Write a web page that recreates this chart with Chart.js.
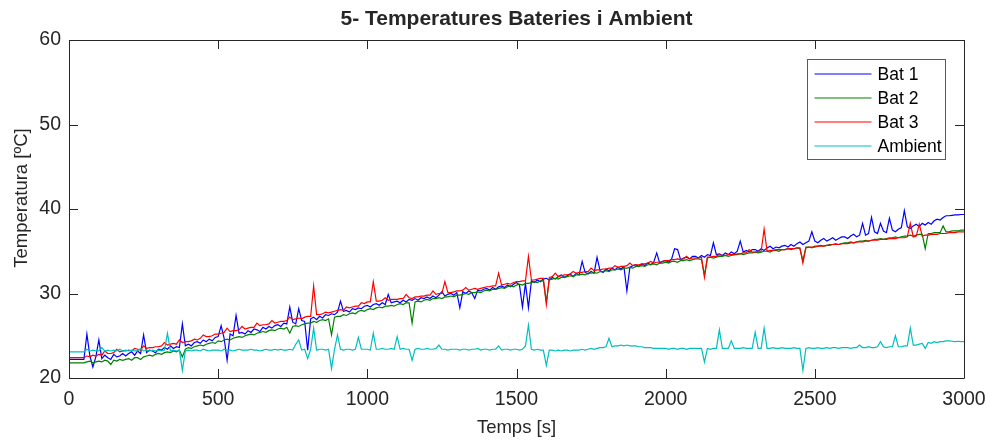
<!DOCTYPE html>
<html>
<head>
<meta charset="utf-8">
<script src="https://cdn.jsdelivr.net/npm/chart.js@4.4.1/dist/chart.umd.min.js"></script>
<style>
  html, body { margin: 0; padding: 0; background: #fff; }
  #wrap { width: 989px; height: 443px; position: relative; }
</style>
</head>
<body>
<div id="wrap"><canvas id="tempChart"></canvas></div>
<script>
// ── Data: one sample every 10 s, from 0 s to 3000 s (one row = 100 s) ──
const SAMPLE_STEP = 10;
const xTicks = [0, 500, 1000, 1500, 2000, 2500, 3000];
const yTicks = [20, 30, 40, 50, 60];

const bat1 = [
  22.2, 22.2, 22.2, 22.2, 22.2, 22.2, 25.2, 22.6, 21.3, 22.5,
  24.5, 22.3, 22.7, 22.4, 22.2, 22.8, 22.5, 22.6, 22.9, 22.6,
  22.9, 23.1, 22.7, 23.2, 22.9, 25.1, 23.0, 23.3, 23.2, 23.0,
  23.4, 23.3, 23.6, 23.4, 23.8, 23.5, 23.7, 23.6, 26.4, 23.8,
  24.0, 23.8, 24.2, 24.3, 24.1, 24.5, 24.3, 24.6, 24.4, 24.8,
  24.9, 26.2, 24.7, 22.1, 25.2, 25.0, 27.4, 25.3, 25.4, 25.2,
  25.6, 25.4, 25.8, 25.7, 25.5, 26.0, 25.8, 26.1, 25.9, 26.2,
  26.3, 26.1, 26.5, 26.4, 28.4, 26.6, 26.4, 28.2, 26.8, 26.7,
  23.3, 27.0, 27.2, 26.9, 27.3, 27.1, 27.5, 27.4, 27.6, 27.5,
  27.8, 29.1, 27.9, 28.0, 27.8, 28.2, 28.1, 28.3, 28.2, 28.5,
  28.6, 28.4, 28.7, 28.8, 28.6, 28.9, 28.7, 29.9, 28.9, 29.0,
  29.1, 28.9, 29.2, 29.0, 29.3, 29.2, 29.4, 29.2, 29.5, 29.4,
  29.6, 29.4, 29.7, 29.5, 29.8, 30.2, 29.7, 29.9, 30.0, 29.8,
  30.1, 28.3, 30.2, 30.0, 30.3, 30.1, 29.4, 30.4, 30.3, 30.5,
  30.6, 30.4, 30.7, 30.5, 30.8, 30.9, 30.7, 31.0, 30.8, 31.1,
  31.3, 31.0, 28.4, 31.2, 28.3, 31.5, 31.3, 31.6, 31.4, 31.7,
  31.8, 31.6, 31.9, 31.7, 32.0, 32.2, 31.9, 32.1, 32.3, 32.0,
  32.4, 32.2, 33.8, 32.5, 32.3, 32.6, 32.4, 34.3, 32.7, 32.5,
  32.9, 32.7, 33.0, 32.8, 33.1, 32.9, 33.2, 30.3, 33.1, 33.3,
  33.4, 33.2, 33.5, 33.3, 33.6, 33.4, 33.7, 34.8, 33.6, 33.8,
  33.9, 33.7, 34.1, 35.3, 35.2, 34.0, 34.2, 34.3, 34.1, 34.4,
  34.4, 34.2, 34.5, 34.3, 34.6, 34.5, 36.0, 34.6, 34.7, 34.5,
  34.8, 34.6, 34.9, 34.7, 35.0, 36.2, 34.9, 35.1, 34.9, 35.2,
  35.2, 35.0, 35.3, 35.1, 35.4, 35.6, 35.3, 35.5, 35.4, 35.6,
  35.7, 35.5, 35.8, 35.6, 35.9, 36.1, 35.8, 36.0, 36.2, 37.3,
  36.2, 36.0, 36.3, 36.5, 36.2, 36.4, 36.6, 36.3, 36.5, 36.7,
  36.7, 36.5, 36.8, 37.0, 36.7, 36.9, 38.3, 36.9, 37.1, 39.0,
  37.3, 37.1, 38.3, 37.4, 37.2, 38.9, 37.5, 37.3, 37.6, 37.8,
  39.8, 37.9, 37.7, 38.0, 38.2, 37.9, 38.3, 38.1, 38.4, 38.2,
  38.6, 38.8, 38.7, 39.0, 39.2, 39.2, 39.25, 39.3, 39.3, 39.35,
  39.35
];

const bat2 = [
  21.8, 21.8, 21.8, 21.8, 21.8, 21.8, 21.9, 22.0, 21.8, 21.9,
  22.0, 21.9, 22.1, 22.0, 21.6, 22.1, 22.0, 22.2, 22.1, 22.2,
  22.3, 22.1, 22.4, 22.4, 22.2, 22.5, 22.6, 22.7, 22.6, 22.8,
  22.9, 22.8, 23.0, 23.1, 23.0, 23.2, 23.1, 23.3, 22.5, 23.4,
  23.6, 23.5, 23.7, 23.8, 23.9, 23.8, 24.0, 24.1, 24.2, 24.1,
  24.4, 24.3, 24.5, 24.6, 24.5, 24.7, 24.8, 24.9, 24.8, 25.0,
  25.1, 25.2, 25.1, 25.3, 25.4, 25.5, 25.4, 25.6, 25.7, 25.6,
  25.8, 25.9, 25.8, 26.0, 25.3, 26.1, 26.2, 26.1, 26.3, 26.4,
  26.5, 26.5, 26.7, 26.6, 26.8, 26.9, 26.8, 27.0, 25.1, 27.2,
  27.3, 27.3, 27.5, 27.4, 27.6, 27.7, 27.6, 27.9, 28.0, 27.9,
  28.1, 28.2, 28.1, 28.3, 28.4, 28.3, 28.5, 28.5, 28.6, 28.5,
  28.7, 28.8, 28.7, 28.9, 28.9, 26.5, 29.0, 29.1, 29.0, 29.2,
  29.3, 29.2, 29.4, 29.4, 29.5, 29.4, 29.6, 29.6, 29.7, 29.6,
  29.8, 29.8, 29.9, 30.0, 29.9, 30.1, 30.1, 30.2, 30.1, 30.3,
  30.4, 30.3, 30.5, 30.5, 30.6, 30.7, 30.6, 30.8, 30.9, 30.8,
  31.0, 31.1, 31.0, 31.2, 31.2, 31.3, 31.4, 31.3, 31.5, 31.5,
  29.0, 31.6, 31.7, 31.8, 31.7, 31.9, 31.9, 32.0, 32.1, 32.0,
  32.2, 32.2, 32.3, 32.2, 32.4, 32.4, 32.5, 32.4, 32.6, 32.6,
  32.7, 32.6, 32.8, 32.8, 32.9, 32.8, 33.0, 33.0, 33.1, 33.0,
  33.2, 33.2, 33.3, 33.2, 33.4, 33.4, 33.5, 33.4, 33.6, 33.6,
  33.7, 33.6, 33.8, 33.8, 33.7, 33.9, 33.9, 34.0, 33.9, 34.0,
  34.1, 34.1, 34.0, 32.2, 34.2, 34.3, 34.2, 34.3, 34.4, 34.4,
  34.5, 34.4, 34.5, 34.6, 34.6, 34.7, 34.6, 34.7, 34.8, 34.8,
  34.9, 34.8, 34.9, 35.0, 35.0, 34.9, 35.1, 35.1, 35.0, 35.2,
  35.2, 35.3, 35.2, 35.3, 35.4, 35.3, 33.9, 35.5, 35.5, 35.4,
  35.6, 35.6, 35.7, 35.6, 35.7, 35.8, 35.8, 35.9, 35.8, 35.9,
  36.0, 36.0, 36.1, 36.0, 36.1, 36.2, 36.2, 36.3, 36.2, 36.3,
  36.4, 36.4, 36.5, 36.4, 36.5, 36.6, 36.6, 36.7, 36.6, 36.7,
  36.8, 36.8, 36.9, 36.8, 36.9, 37.0, 37.0, 35.3, 37.1, 37.1,
  37.2, 37.2, 37.2, 38.0, 37.3, 37.3, 37.4, 37.4, 37.4, 37.5,
  37.5
];

const bat3 = [
  22.4, 22.4, 22.4, 22.4, 22.4, 22.4, 22.6, 22.5, 22.7, 22.6,
  22.8, 22.7, 23.2, 22.9, 22.9, 23.0, 23.4, 23.1, 23.2, 23.2,
  23.3, 23.2, 23.5, 23.4, 23.3, 23.8, 23.5, 23.6, 23.6, 23.7,
  23.7, 23.8, 24.2, 23.9, 24.0, 24.1, 24.0, 24.5, 24.2, 24.3,
  24.3, 24.4, 24.6, 24.5, 24.7, 25.1, 24.9, 24.9, 25.0, 25.2,
  25.2, 25.3, 25.4, 25.9, 25.5, 25.6, 25.6, 25.7, 26.1, 25.8,
  25.9, 26.0, 26.0, 26.5, 26.2, 26.3, 26.3, 26.4, 26.8, 26.5,
  26.6, 26.7, 26.7, 26.8, 27.2, 26.9, 27.0, 27.1, 27.0, 27.2,
  27.3, 27.3, 30.9, 27.5, 27.5, 27.6, 27.8, 27.7, 27.8, 27.9,
  28.0, 28.1, 28.0, 28.4, 28.3, 28.4, 28.5, 28.5, 28.9, 28.8,
  29.0, 29.0, 31.4, 29.1, 29.1, 29.2, 29.5, 29.2, 29.3, 29.3,
  29.3, 29.4, 29.4, 29.9, 29.5, 29.4, 29.6, 29.6, 29.7, 29.7,
  29.8, 29.8, 30.3, 29.9, 30.0, 30.0, 31.4, 30.1, 30.1, 30.2,
  30.3, 30.3, 30.4, 30.7, 30.4, 30.5, 30.6, 30.5, 30.6, 30.7,
  30.8, 30.8, 30.9, 30.9, 32.4, 31.0, 31.1, 31.2, 31.1, 31.3,
  31.4, 31.4, 31.5, 31.5, 34.4, 31.6, 31.6, 31.7, 31.8, 31.8,
  28.7, 31.9, 32.0, 32.4, 32.0, 32.1, 32.2, 32.2, 32.3, 32.6,
  32.4, 32.5, 32.5, 32.6, 32.6, 33.0, 32.7, 32.8, 32.8, 32.9,
  32.9, 33.0, 33.0, 33.3, 33.1, 33.2, 33.2, 33.3, 33.6, 33.3,
  33.4, 33.4, 33.5, 33.5, 33.6, 33.8, 33.6, 33.7, 33.7, 33.8,
  33.9, 33.9, 34.0, 34.0, 34.1, 34.0, 34.1, 34.4, 34.1, 34.2,
  34.2, 34.2, 34.3, 31.9, 34.3, 34.3, 34.4, 34.4, 34.6, 34.5,
  34.5, 34.6, 34.6, 34.6, 34.7, 34.7, 34.8, 34.8, 35.2, 34.9,
  34.9, 35.0, 35.0, 37.6, 35.0, 35.1, 35.1, 35.2, 35.2, 35.2,
  35.2, 35.3, 35.3, 35.3, 35.4, 35.4, 33.6, 35.4, 35.5, 35.5,
  35.5, 35.6, 35.6, 35.6, 35.7, 35.7, 35.8, 35.8, 35.8, 35.9,
  35.9, 35.9, 36.0, 36.0, 36.1, 36.1, 36.1, 36.2, 36.2, 36.3,
  36.3, 36.3, 36.4, 36.4, 36.4, 36.5, 36.5, 36.5, 36.6, 36.6,
  36.6, 36.7, 38.3, 36.7, 36.8, 38.2, 36.8, 36.9, 36.9, 37.0,
  37.0, 37.0, 37.1, 37.1, 37.1, 37.2, 37.2, 37.2, 37.3, 37.3,
  37.3
];

const ambient = [
  23.1, 23.1, 23.1, 23.1, 23.1, 23.1, 23.4, 23.2, 23.3, 23.2,
  23.2, 23.6, 23.2, 23.3, 23.2, 23.3, 23.2, 23.4, 23.2, 23.3,
  23.2, 23.3, 23.2, 23.2, 23.5, 23.2, 23.3, 23.2, 23.3, 23.2,
  23.3, 23.2, 23.3, 25.3, 23.2, 23.3, 23.2, 23.3, 20.9, 23.2,
  23.3, 23.2, 23.3, 23.3, 23.2, 23.4, 23.3, 23.2, 23.3, 23.3,
  23.3, 23.2, 23.4, 23.3, 23.3, 23.2, 23.3, 23.4, 23.3, 23.3,
  23.3, 23.4, 23.3, 23.3, 23.2, 23.3, 23.4, 23.3, 23.3, 23.4,
  23.3, 23.4, 23.3, 23.3, 23.4, 23.3, 24.0, 24.5, 23.3, 23.4,
  22.3, 23.4, 25.9, 23.3, 23.4, 23.4, 23.3, 23.4, 21.1, 23.4,
  25.1, 23.4, 23.3, 23.4, 23.4, 23.3, 23.4, 24.8, 23.4, 23.4,
  23.4, 23.3, 25.3, 23.4, 23.4, 23.5, 23.4, 23.4, 23.5, 23.4,
  24.9, 23.4, 23.5, 23.4, 23.4, 22.1, 23.4, 23.5, 23.4, 23.4,
  23.5, 23.4, 23.4, 23.5, 23.9, 23.4, 23.4, 23.3, 23.4, 23.4,
  23.4, 23.3, 23.4, 23.4, 23.3, 23.4, 23.4, 23.5, 23.3, 23.4,
  23.4, 23.3, 23.4, 23.4, 23.8, 23.3, 23.4, 23.4, 23.3, 23.4,
  23.4, 23.3, 23.4, 23.8, 26.25, 23.4, 23.3, 23.4, 23.3, 23.3,
  21.5, 23.3, 23.3, 23.2, 23.3, 23.2, 23.3, 23.3, 23.2, 23.3,
  23.3, 23.3, 23.4, 23.3, 23.4, 23.5, 23.4, 23.5, 23.6, 23.6,
  23.7, 24.7, 23.7, 23.8, 23.8, 23.9, 23.8, 23.9, 23.8, 23.8,
  23.8, 23.7, 23.7, 23.6, 23.6, 23.6, 23.5, 23.5, 23.5, 23.5,
  23.5, 23.4, 23.5, 23.5, 23.4, 23.5, 23.5, 23.4, 23.5, 23.5,
  23.5, 23.5, 23.5, 21.9, 23.5, 23.4, 23.5, 23.5, 25.7, 23.5,
  23.5, 23.5, 24.4, 23.5, 23.5, 23.5, 23.6, 23.5, 23.5, 23.5,
  25.4, 23.5, 23.5, 25.9, 23.5, 23.5, 23.6, 23.5, 23.5, 23.6,
  23.5, 23.5, 23.5, 23.6, 23.5, 23.5, 20.9, 23.5, 23.6, 23.5,
  23.5, 23.6, 23.5, 23.5, 23.6, 23.5, 23.6, 23.6, 23.5, 23.6,
  23.6, 23.6, 23.5, 23.6, 23.6, 23.9, 23.6, 23.6, 23.7, 23.6,
  23.6, 23.7, 24.3, 23.7, 23.6, 23.7, 23.7, 25.0, 23.7, 23.7,
  23.8, 23.8, 25.9, 23.9, 23.9, 24.0, 24.1, 23.5, 24.2, 24.1,
  24.3, 24.2, 24.3, 24.3, 24.4, 24.4, 24.35, 24.3, 24.35, 24.3,
  24.3
];

const seriesNames  = ['Bat 1', 'Bat 2', 'Bat 3', 'Ambient'];
const seriesColors = ['#0000ff', '#008000', '#ff0000', '#00bfbf'];

const FONT = "'Liberation Sans', Arial, Helvetica, sans-serif";
const INK  = '#262626';

function toPoints(values) {
  return values.map((v, i) => ({ x: i * SAMPLE_STEP, y: v }));
}

// ── MATLAB-like frame: box, inward ticks, titles, legend ──────────────
const framePlugin = {
  id: 'matlabFrame',
  afterDatasetsDraw(chart) {
    const { ctx, chartArea: a, scales } = chart;
    const tick = 9;
    ctx.save();
    ctx.strokeStyle = INK;
    ctx.lineWidth = 1;
    ctx.beginPath();
    ctx.rect(Math.round(a.left) + 0.5, Math.round(a.top) + 0.5,
             Math.round(a.right - a.left), Math.round(a.bottom - a.top));
    xTicks.forEach(v => {
      const px = Math.round(scales.x.getPixelForValue(v)) + 0.5;
      ctx.moveTo(px, a.bottom); ctx.lineTo(px, a.bottom - tick);
      ctx.moveTo(px, a.top);    ctx.lineTo(px, a.top + tick);
    });
    yTicks.forEach(v => {
      const py = Math.round(scales.y.getPixelForValue(v)) + 0.5;
      ctx.moveTo(a.left, py);  ctx.lineTo(a.left + tick, py);
      ctx.moveTo(a.right, py); ctx.lineTo(a.right - tick, py);
    });
    ctx.stroke();
    ctx.restore();
  },
  afterDraw(chart) {
    const { ctx, chartArea: a } = chart;
    const cx = (a.left + a.right) / 2;
    ctx.save();
    ctx.fillStyle = INK;
    ctx.textAlign = 'center';
    ctx.textBaseline = 'middle';

    // title
    ctx.font = 'bold 21px ' + FONT;
    ctx.fillText('5- Temperatures Bateries i Ambient', cx, 19);

    // axis labels
    ctx.font = '18.5px ' + FONT;
    ctx.fillText('Temps [s]', cx, 428);
    ctx.save();
    ctx.translate(22, 198);
    ctx.rotate(-Math.PI / 2);
    ctx.fillText('Temperatura [ºC]', 0, 0);
    ctx.restore();

    // legend
    const boxW = 138, boxH = 100;
    const bx = Math.round(a.right - 19 - boxW) + 0.5;
    const by = Math.round(a.top + 19) + 0.5;
    ctx.fillStyle = '#ffffff';
    ctx.fillRect(bx, by, boxW, boxH);
    ctx.strokeStyle = '#5a5a5a';
    ctx.lineWidth = 1;
    ctx.strokeRect(bx, by, boxW, boxH);
    ctx.font = '17.5px ' + FONT;
    ctx.textAlign = 'left';
    seriesNames.forEach((name, i) => {
      const ry = Math.round(by + 14 + i * 24);
      ctx.strokeStyle = seriesColors[i];
      ctx.lineWidth = 1.2;
      ctx.beginPath();
      ctx.moveTo(bx + 7, ry);
      ctx.lineTo(bx + 64, ry);
      ctx.stroke();
      ctx.fillStyle = '#000000';
      ctx.fillText(name, bx + 70, ry + 1);
    });
    ctx.restore();
  },
};

const allSeries = [bat1, bat2, bat3, ambient];

new Chart(document.getElementById('tempChart'), {
  type: 'line',
  data: {
    datasets: allSeries.map((vals, i) => ({
      label: seriesNames[i],
      data: toPoints(vals),
      borderColor: seriesColors[i],
      backgroundColor: seriesColors[i],
      borderWidth: 1.2,
      pointRadius: 0,
      tension: 0,
      fill: false,
      order: allSeries.length - 1 - i, // later series on top, like MATLAB
    })),
  },
  options: {
    responsive: true,
    maintainAspectRatio: false,
    animation: false,
    parsing: false,
    normalized: true,
    layout: { padding: { left: 0, right: 25, top: 40, bottom: 0 } },
    plugins: {
      legend: { display: false },
      title: { display: false },
      tooltip: { enabled: false },
    },
    scales: {
      x: {
        type: 'linear',
        min: 0,
        max: 3000,
        afterFit: s => { s.height = 65; },
        afterBuildTicks: s => { s.ticks = xTicks.map(v => ({ value: v })); },
        grid: { display: false },
        border: { display: false },
        ticks: {
          color: INK, font: { family: FONT, size: 19.5 }, padding: 2, maxRotation: 0,
          callback: v => String(v),
        },
      },
      y: {
        type: 'linear',
        min: 20,
        max: 60,
        afterFit: s => { s.width = 69; },
        afterBuildTicks: s => { s.ticks = yTicks.map(v => ({ value: v })); },
        grid: { display: false },
        border: { display: false },
        ticks: {
          color: INK, font: { family: FONT, size: 19.5 }, padding: 0,
          callback: v => String(v),
        },
      },
    },
  },
  plugins: [framePlugin],
});
</script>
</body>
</html>
